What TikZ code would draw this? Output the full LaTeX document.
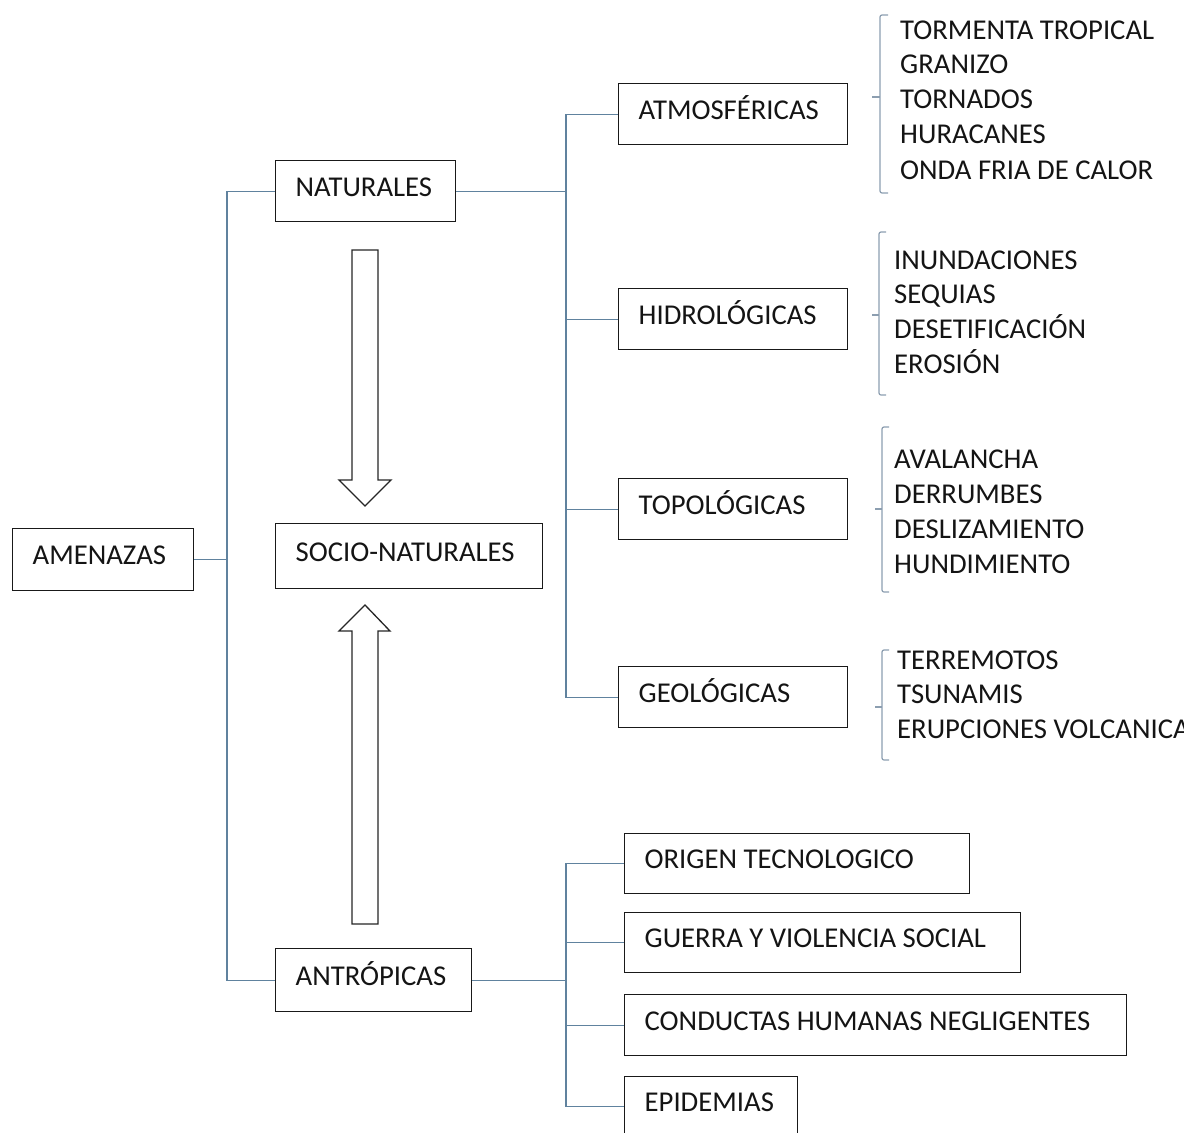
\documentclass[tikz,border=0pt]{standalone}
\usepackage{fontspec}
\setmainfont{Carlito}
\definecolor{connc}{RGB}{96,130,158}
\definecolor{brkc}{RGB}{140,158,176}
\definecolor{txt}{RGB}{20,20,20}
\newcommand{\lbx}[2]{\makebox[#1][l]{#2}}
\begin{document}
\begin{tikzpicture}[x=1pt,y=-1pt,
  box/.style={draw=black!90, line width=1.3pt, anchor=north west,
    inner xsep=20pt, inner ysep=0pt, text height=18pt, text depth=8pt,
    font=\fontsize{28.7}{33}\selectfont, text=txt},
  item/.style={anchor=west, inner sep=0pt, text height=18pt, text depth=0pt,
    font=\fontsize{28.7}{33}\selectfont, text=txt},
  conn/.style={draw=connc, line width=1.3pt},
  brk/.style={draw=brkc, line width=1.2pt, rounded corners=2pt},
  barrow/.style={draw=black!85, line width=1.3pt, fill=white, line join=miter}]
\useasboundingbox (0,0) rectangle (1184,1133);

% main boxes
\node[box, minimum width=181pt, minimum height=62pt] (amen) at (12,528) {\lbx{141pt}{AMENAZAS}};
\node[box, minimum width=180pt, minimum height=61pt] (nat) at (275,160) {\lbx{140pt}{NATURALES}};
\node[box, minimum width=267pt, minimum height=65pt] (socio) at (275,523) {\lbx{227pt}{SOCIO-NATURALES}};
\node[box, minimum width=196pt, minimum height=63pt] (antr) at (275,948) {\lbx{156pt}{ANTRÓPICAS}};

\node[box, minimum width=229pt, minimum height=61pt] (atm) at (618,83) {\lbx{189pt}{ATMOSFÉRICAS}};
\node[box, minimum width=229pt, minimum height=61pt] (hid) at (618,288) {\lbx{189pt}{HIDROLÓGICAS}};
\node[box, minimum width=229pt, minimum height=61pt] (top) at (618,478) {\lbx{189pt}{TOPOLÓGICAS}};
\node[box, minimum width=229pt, minimum height=61pt] (geo) at (618,666) {\lbx{189pt}{GEOLÓGICAS}};

\node[box, minimum width=345pt, minimum height=60pt] (orig) at (624,833) {\lbx{305pt}{ORIGEN TECNOLOGICO}};
\node[box, minimum width=396pt, minimum height=60pt] (guer) at (624,912) {\lbx{356pt}{GUERRA Y VIOLENCIA SOCIAL}};
\node[box, minimum width=502pt, minimum height=61pt] (cond) at (624,994) {\lbx{462pt}{CONDUCTAS HUMANAS NEGLIGENTES}};
\node[box, minimum width=173pt, minimum height=60pt] (epid) at (624,1076) {\lbx{133pt}{EPIDEMIAS}};

% connectors
\coordinate (jL) at (227,557);
\draw[conn] (amen.east) -- (amen.east -| jL);
\draw[conn] (nat.west) -| (jL) |- (antr.west);
\coordinate (jN) at (566,193);
\draw[conn] (nat.east) -- (nat.east -| jN);
\draw[conn] (atm.west) -| (jN) |- (geo.west);
\draw[conn] (hid.west) -- (hid.west -| jN);
\draw[conn] (top.west) -- (top.west -| jN);
\coordinate (jA) at (566,982);
\draw[conn] (antr.east) -- (antr.east -| jA);
\draw[conn] (orig.west) -| (jA) |- (epid.west);
\draw[conn] (guer.west) -- (guer.west -| jA);
\draw[conn] (cond.west) -- (cond.west -| jA);

% block arrows
\draw[barrow] (352,250) -- (378,250) -- (378,480) -- (391,480) -- (365,506) -- (339,480) -- (352,480) -- cycle;
\draw[barrow] (352,924) -- (378,924) -- (378,631) -- (390,631) -- (365,605) -- (339,631) -- (352,631) -- cycle;

% brackets
\draw[brk] (888,15) -- (880,15) -- (880,193) -- (888,193);
\draw[brk] (872,97) -- (880,97);
\draw[brk] (886,232) -- (879,232) -- (879,395) -- (886,395);
\draw[brk] (872,315) -- (879,315);
\draw[brk] (889,427) -- (882,427) -- (882,592) -- (889,592);
\draw[brk] (875,509) -- (882,509);
\draw[brk] (889,650) -- (882,650) -- (882,760) -- (889,760);
\draw[brk] (875,707) -- (882,707);

% lists
\node[item] (a1) at (900,30) {TORMENTA TROPICAL};
\node[item] (a2) at (900,64) {GRANIZO};
\node[item] (a3) at (900,99) {TORNADOS};
\node[item] (a4) at (900,134) {HURACANES};
\node[item] (a5) at (900,170) {ONDA FRIA DE CALOR};

\node[item] (h1) at (894,260) {INUNDACIONES};
\node[item] (h2) at (894,294) {SEQUIAS};
\node[item] (h3) at (894,329) {DESETIFICACIÓN};
\node[item] (h4) at (894,364) {EROSIÓN};

\node[item] (t1) at (894,459) {AVALANCHA};
\node[item] (t2) at (894,494) {DERRUMBES};
\node[item] (t3) at (894,529) {DESLIZAMIENTO};
\node[item] (t4) at (894,564) {HUNDIMIENTO};

\node[item] (g1) at (897,660) {TERREMOTOS};
\node[item] (g2) at (897,694) {TSUNAMIS};
\node[item] (g3) at (897,729) {ERUPCIONES VOLCANICAS};
\end{tikzpicture}
\end{document}
